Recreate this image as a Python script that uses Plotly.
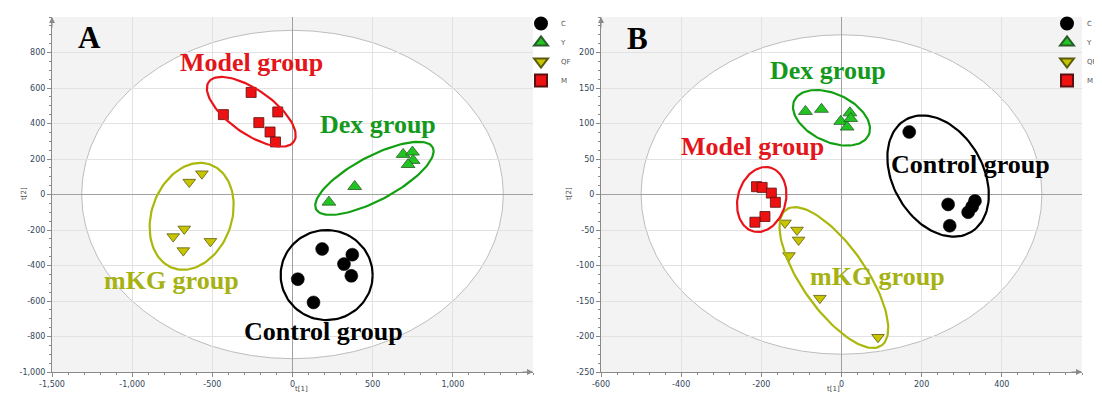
import numpy as np
import plotly.graph_objects as go

# page has an 8px body margin, so the figure is drawn at (8, 8) on screen
OFF = 8
W, H = 1102 - OFF, 401 - OFF

# ---------------- data: panel A ----------------
A_C_x = [185, 373, 321, 367, 33, 131]
A_C_y = [-307, -339, -392, -458, -477, -608]
A_Y_x = [690, 748, 752, 721, 388, 227]
A_Y_y = [226, 239, 192, 169, 45, -43]
A_QF_x = [-644, -565, -675, -744, -681, -512]
A_QF_y = [70, 117, -194, -237, -316, -264]
A_M_x = [-258, -431, -92, -210, -140, -106]
A_M_y = [575, 450, 465, 405, 352, 296]

# ---------------- data: panel B ----------------
B_C_x = [169, 266, 333, 326, 316, 270]
B_C_y = [88, -14, -9, -17, -25, -44]
B_Y_x = [-90, -50, -2, 21, 23, 14]
B_Y_y = [117, 120, 103, 115, 107, 95]
B_QF_x = [-141, -111, -107, -131, -54, 91]
B_QF_y = [-40, -50, -64, -86, -146, -201]
B_M_x = [-212, -198, -175, -165, -191, -216]
B_M_y = [11, 10, 2, -11, -31, -39]

A_xticks = [-1500, -1000, -500, 0, 500, 1000]
A_xtext = ["-1,500", "-1,000", "-500", "0", "500", "1,000"]
A_yticks = [-1000, -800, -600, -400, -200, 0, 200, 400, 600, 800]
A_ytext = ["-1,000", "-800", "-600", "-400", "-200", "0", "200", "400", "600", "800"]
B_xticks = [-600, -400, -200, 0, 200, 400]
B_yticks = [-250, -200, -150, -100, -50, 0, 50, 100, 150, 200]

legend_names = ["C", "Y", "QF", "M"]
group_labels = ["Control group", "Dex group", "mKG group", "Model group"]

# group ellipses: (center x, center y, semi-a px, semi-b px, angle deg)
A_ell = {
    "C": (213, -454, 46, 45, 0),
    "Y": (511, 91, 66, 22, -28),
    "QF": (-629, -123, 55, 40, -70),
    "M": (-257, 466, 52, 22, 35),
}
B_ell = {
    "C": (241, 26, 65, 45, 60),
    "Y": (-25, 108, 41, 24, 25),
    "QF": (-19, -117, 83, 32, 55),
    "M": (-199, -7, 33, 24, -75),
}
# label positions (data)
A_lab = {"C": (196, -769), "Y": (533, 392), "QF": (-752, -487), "M": (-253, 746)}
B_lab = {"C": (323, 42), "Y": (-34, 174), "QF": (89, -115), "M": (-221, 68)}

A_range_x, A_range_y = [-1500, 1500], [-1000, 1000]
B_range_x, B_range_y = [-600, 600], [-250, 250]
A_t2 = (1315, 925)
B_t2 = (500, 225)

# ---------------- styles ----------------
mk = {
    "C": dict(symbol="circle", color="black", size=13, line=dict(color="black", width=0.5)),
    "Y": dict(symbol="triangle-up", color="#22c422", size=12, line=dict(color="#2a5a2a", width=0.8)),
    "QF": dict(symbol="triangle-down", color="#c8c400", size=11, line=dict(color="#5a5a10", width=0.8)),
    "M": dict(symbol="square", color="#ee1111", size=10, line=dict(color="#5a1010", width=0.8)),
}
ell_col = {"C": "black", "Y": "#12a012", "QF": "#aab80c", "M": "#e8141a"}
txt_col = {"C": "black", "Y": "#15991d", "QF": "#a5b212", "M": "#e3161b"}

# screen-pixel layout, converted to figure coordinates
xdomA = [(52 - OFF) / W, (533 - OFF) / W]
xdomB = [(601 - OFF) / W, (1082 - OFF) / W]
ydom = [(H - (372 - OFF)) / H, (H - (17 - OFF)) / H]
plot_w = 481
plot_h = 355

fig = go.Figure()

def add_panel(series, xax, yax, legend):
    for key, X, Y in series:
        fig.add_trace(go.Scatter(x=X, y=Y, mode="markers", name=key, marker=mk[key],
                                 xaxis=xax, yaxis=yax, legend=legend, showlegend=True))

add_panel([("C", A_C_x, A_C_y), ("Y", A_Y_x, A_Y_y), ("QF", A_QF_x, A_QF_y), ("M", A_M_x, A_M_y)],
          "x", "y", "legend")
add_panel([("C", B_C_x, B_C_y), ("Y", B_Y_x, B_Y_y), ("QF", B_QF_x, B_QF_y), ("M", B_M_x, B_M_y)],
          "x2", "y2", "legend2")

def ellipse_trace(params, rx, ry, xax, yax, color):
    cx, cy, a, b, ang = params
    sx = plot_w / (rx[1] - rx[0])
    sy = plot_h / (ry[1] - ry[0])
    t = np.linspace(0, 2 * np.pi, 120)
    th = np.deg2rad(ang)
    dx = a * np.cos(t) * np.cos(th) - b * np.sin(t) * np.sin(th)
    dy = a * np.cos(t) * np.sin(th) + b * np.sin(t) * np.cos(th)
    return go.Scatter(x=cx + dx / sx, y=cy - dy / sy, mode="lines",
                      line=dict(color=color, width=2.2), hoverinfo="skip",
                      showlegend=False, xaxis=xax, yaxis=yax)

for k in legend_names:
    fig.add_trace(ellipse_trace(A_ell[k], A_range_x, A_range_y, "x", "y", ell_col[k]))
    fig.add_trace(ellipse_trace(B_ell[k], B_range_x, B_range_y, "x2", "y2", ell_col[k]))

# Hotelling T2 ellipses (white fill, below grid)
fig.add_shape(type="circle", xref="x", yref="y", x0=-A_t2[0], x1=A_t2[0], y0=-A_t2[1], y1=A_t2[1],
              fillcolor="white", line=dict(color="#bdbdbd", width=1), layer="below")
fig.add_shape(type="circle", xref="x2", yref="y2", x0=-B_t2[0], x1=B_t2[0], y0=-B_t2[1], y1=B_t2[1],
              fillcolor="white", line=dict(color="#bdbdbd", width=1), layer="below")

ann = []
lab_font = "Liberation Serif"
for k, name in zip(legend_names, group_labels):
    ann.append(dict(x=A_lab[k][0], y=A_lab[k][1], xref="x", yref="y", text="<b>%s</b>" % name,
                    showarrow=False, font=dict(family=lab_font, size=26, color=txt_col[k])))
    ann.append(dict(x=B_lab[k][0], y=B_lab[k][1], xref="x2", yref="y2", text="<b>%s</b>" % name,
                    showarrow=False, font=dict(family=lab_font, size=26, color=txt_col[k])))
ann.append(dict(x=-1269, y=882, xref="x", yref="y", text="<b>A</b>", showarrow=False,
                font=dict(family=lab_font, size=31, color="black")))
ann.append(dict(x=-508, y=220, xref="x2", yref="y2", text="<b>B</b>", showarrow=False,
                font=dict(family=lab_font, size=31, color="black")))
# axis arrows
for xr, yr, rx, ry in [("x", "y", A_range_x, A_range_y), ("x2", "y2", B_range_x, B_range_y)]:
    ann.append(dict(x=rx[0], y=ry[1], xref=xr, yref=yr, showarrow=True, ax=0, ay=12,
                    arrowhead=2, arrowsize=1.2, arrowwidth=1, arrowcolor="#8a8a8a", text=""))
    ann.append(dict(x=rx[1], y=ry[0], xref=xr, yref=yr, showarrow=True, ax=-12, ay=0,
                    arrowhead=2, arrowsize=1.2, arrowwidth=1, arrowcolor="#8a8a8a", text=""))
# axis titles
for xc in [(52 + 533) / 2, (601 + 1082) / 2]:
    ann.append(dict(x=(xc - OFF) / W, y=(H - (395 - OFF)) / H, xref="paper", yref="paper",
                    text="t[1]", showarrow=False,
                    font=dict(family="DejaVu Sans", size=7, color="#444")))
for xc in [18, 569]:
    ann.append(dict(x=(xc - OFF) / W, y=(H - (194 - OFF)) / H, xref="paper", yref="paper",
                    text="t[2]", showarrow=False, textangle=-90,
                    font=dict(family="DejaVu Sans", size=7, color="#444")))

axis_common = dict(showline=True, linecolor="#8a8a8a", linewidth=1, ticks="outside", ticklen=4,
                   tickcolor="#8a8a8a", showgrid=True, gridcolor="#e2e2e2", gridwidth=1,
                   zeroline=True, zerolinecolor="#a0a0a0", zerolinewidth=1,
                   tickfont=dict(family="DejaVu Sans", size=8, color="#34465a"), mirror=False,
                   fixedrange=True, automargin=False)

leg_common = dict(yanchor="top", y=(H - 1) / H, bgcolor="rgba(0,0,0,0)",
                  font=dict(family="DejaVu Sans", size=7, color="#555"), itemsizing="constant",
                  tracegroupgap=0, itemwidth=30)

fig.update_layout(
    width=W, height=H, margin=dict(l=0, r=0, t=0, b=0, autoexpand=False),
    paper_bgcolor="white", plot_bgcolor="#f3f3f3",
    xaxis=dict(domain=xdomA, range=A_range_x, anchor="y", tickvals=A_xticks, ticktext=A_xtext,
               minor=dict(dtick=100, ticks="outside", ticklen=2, tickcolor="#8a8a8a", showgrid=False),
               **axis_common),
    yaxis=dict(domain=ydom, range=A_range_y, anchor="x", tickvals=A_yticks, ticktext=A_ytext,
               minor=dict(dtick=50, ticks="outside", ticklen=2, tickcolor="#8a8a8a", showgrid=False),
               **axis_common),
    xaxis2=dict(domain=xdomB, range=B_range_x, anchor="y2", tickvals=B_xticks,
                ticktext=[str(v) for v in B_xticks],
                minor=dict(dtick=40, ticks="outside", ticklen=2, tickcolor="#8a8a8a", showgrid=False),
                **axis_common),
    yaxis2=dict(domain=ydom, range=B_range_y, anchor="x2", tickvals=B_yticks,
                ticktext=[str(v) for v in B_yticks],
                minor=dict(dtick=12.5, ticks="outside", ticklen=2, tickcolor="#8a8a8a", showgrid=False),
                **axis_common),
    legend=dict(x=(513 - OFF + 8) / W, xanchor="left", **leg_common),
    legend2=dict(x=1.0, xanchor="right", **leg_common),
    annotations=ann,
    showlegend=True,
)

fig.write_html("out.html")
